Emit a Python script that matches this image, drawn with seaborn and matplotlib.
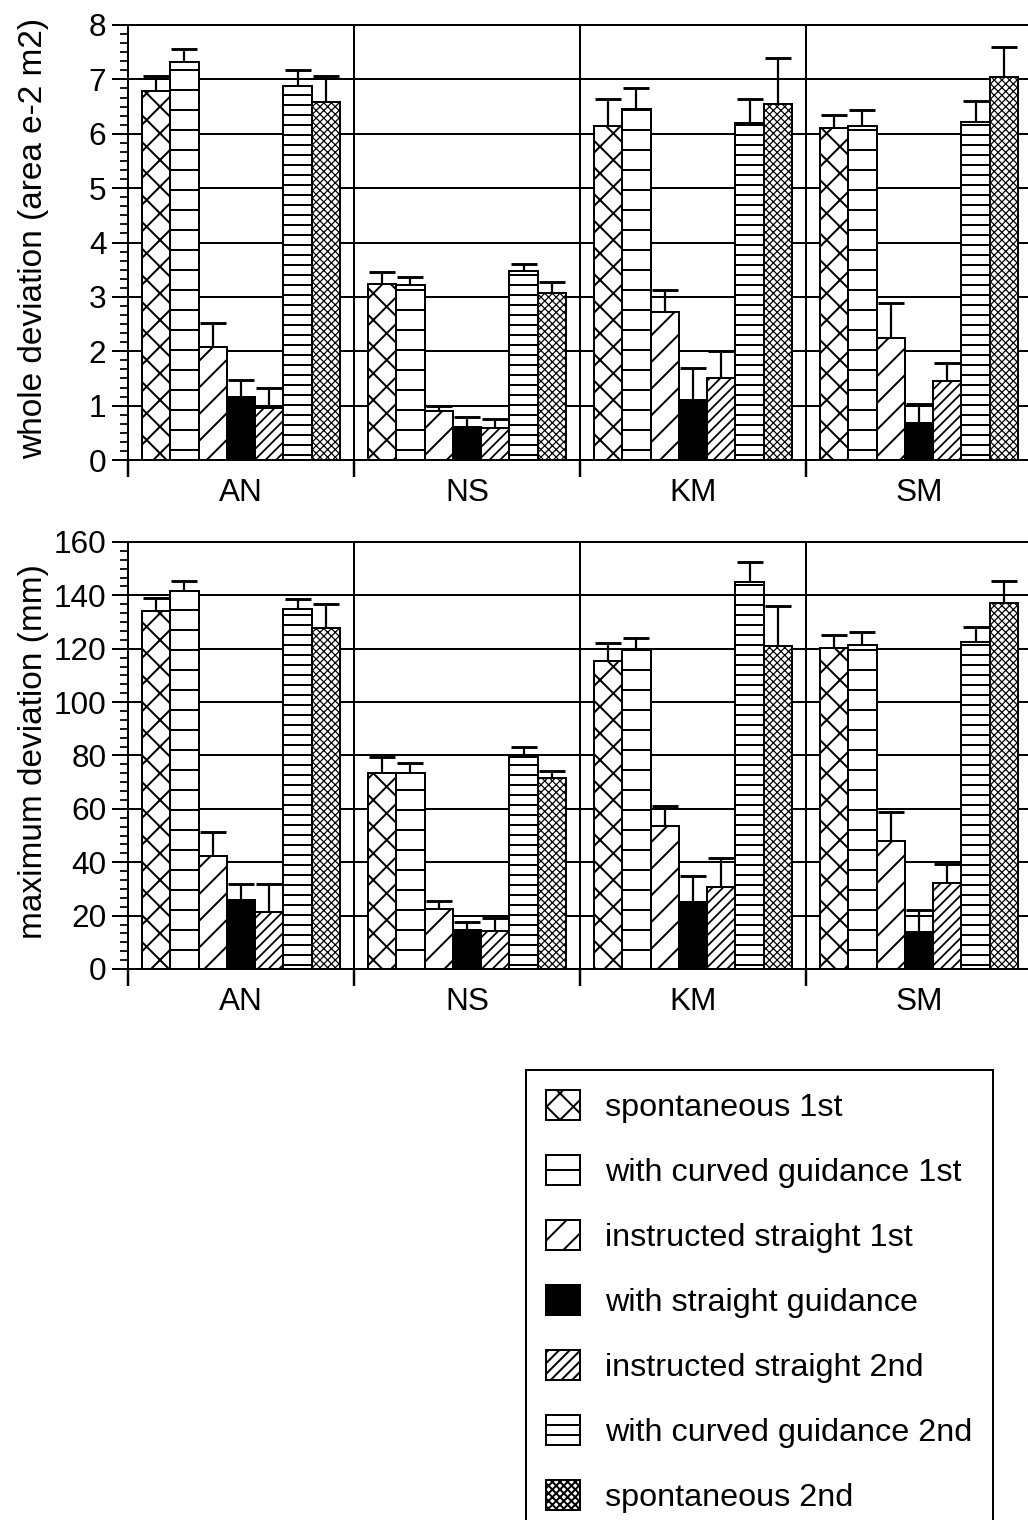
import numpy as np
import pandas as pd
import matplotlib
matplotlib.use("Agg")
import matplotlib.pyplot as plt
import matplotlib.hatch as mhatch
import seaborn as sns
from matplotlib.ticker import AutoMinorLocator
from matplotlib.container import BarContainer

# ---------------- data ----------------
groups = ["AN", "NS", "KM", "SM"]
conditions = ["spontaneous 1st", "with curved guidance 1st", "instructed straight 1st",
              "with straight guidance", "instructed straight 2nd",
              "with curved guidance 2nd", "spontaneous 2nd"]

# whole deviation (area e-2 m2)
whole_AN = [6.78, 7.32, 2.08, 1.15, 0.95, 6.87, 6.58]
whole_NS = [3.23, 3.22, 0.90, 0.60, 0.59, 3.48, 3.07]
whole_KM = [6.14, 6.45, 2.72, 1.10, 1.50, 6.20, 6.55]
whole_SM = [6.11, 6.15, 2.25, 0.68, 1.45, 6.22, 7.04]
whole_err_AN = [0.28, 0.23, 0.44, 0.33, 0.38, 0.30, 0.48]
whole_err_NS = [0.22, 0.14, 0.10, 0.20, 0.16, 0.13, 0.20]
whole_err_KM = [0.50, 0.40, 0.40, 0.60, 0.50, 0.44, 0.85]
whole_err_SM = [0.23, 0.28, 0.64, 0.35, 0.34, 0.38, 0.55]

# maximum deviation (mm)
max_AN = [134.0, 141.7, 42.5, 26.0, 21.5, 134.8, 127.7]
max_NS = [73.5, 73.5, 22.6, 14.8, 14.3, 79.5, 71.4]
max_KM = [115.3, 119.7, 53.7, 25.1, 30.7, 144.9, 120.9]
max_SM = [120.3, 121.3, 48.1, 13.9, 32.2, 122.4, 137.0]
max_err_AN = [5.0, 3.7, 8.7, 5.7, 10.3, 4.0, 9.0]
max_err_NS = [6.0, 3.7, 2.9, 2.8, 4.8, 3.7, 2.9]
max_err_KM = [6.8, 4.3, 7.5, 9.7, 11.0, 7.7, 15.3]
max_err_SM = [5.0, 5.0, 10.6, 8.1, 7.2, 5.6, 8.4]

whole_label = "whole deviation (area e-2 m2)"
max_label = "maximum deviation (mm)"

# ---------------- style ----------------
hatches = ["xx", "-", "//", "", "/////", "--", "xxxxxxx"]
hatch_lw = [0.9, 0.9, 0.9, 0.9, 0.8, 0.9, 0.55]
fills = ["white", "white", "white", "black", "white", "white", "white"]

# slightly denser horizontal hatch lines (closer to the original print)
_orig_hinit = mhatch.HorizontalHatch.__init__


def _hinit(self, hatch, density):
    _orig_hinit(self, hatch, density)
    self.num_lines = int((hatch.count('-') + hatch.count('+')) * density * 1.34)
    self.num_vertices = self.num_lines * 2


mhatch.HorizontalHatch.__init__ = _hinit

DPI = 160
W, H = 1028, 1520
sns.set_style("ticks")
plt.rcParams["font.family"] = ["Liberation Sans", "DejaVu Sans"]
plt.rcParams["hatch.linewidth"] = 0.9
plt.rcParams["hatch.color"] = "black"

FS = 14.2
LW = 0.9

fig = plt.figure(figsize=(W / DPI, H / DPI), dpi=DPI)


def px_axes(left, top, right, bottom):
    return fig.add_axes([left / W, 1 - bottom / H, (right - left) / W, (bottom - top) / H])


def build_df(vals, errs):
    rows = []
    for g, v, e in zip(groups, vals, errs):
        for c, vv, ee in zip(conditions, v, e):
            rows.append({"group": g, "condition": c, "value": vv, "err": ee})
    return pd.DataFrame(rows)


def style_patch(p, ci):
    p.set_hatch(hatches[ci])
    p.set_edgecolor("black")
    if hasattr(p, "set_hatch_linewidth"):
        p.set_hatch_linewidth(hatch_lw[ci])


def draw_panel(ax, df, ymax, step, ylabel):
    palette = dict(zip(conditions, fills))
    sns.barplot(data=df, x="group", y="value", hue="condition", order=groups,
                hue_order=conditions, palette=palette, saturation=1, width=0.876,
                edgecolor="black", linewidth=LW, errorbar=None, legend=False,
                ax=ax, zorder=3)
    bar_conts = [c for c in ax.containers if isinstance(c, BarContainer)]
    for ci, cont in enumerate(bar_conts):
        xs, ys, es = [], [], []
        sub = df[df["condition"] == conditions[ci]].set_index("group")
        for g, bar in zip(groups, cont.patches):
            style_patch(bar, ci)
            xs.append(bar.get_x() + bar.get_width() / 2)
            ys.append(bar.get_height())
            es.append(sub.loc[g, "err"])
        es = np.array(es)
        _, caps, _ = ax.errorbar(xs, ys, yerr=[np.zeros_like(es), es], fmt="none",
                                 ecolor="black", elinewidth=1.0, capsize=5.8,
                                 capthick=1.3, zorder=4)
        if len(caps) >= 2:
            caps[0].set_visible(False)

    ax.set_xlim(-0.5, 3.5)
    ax.set_ylim(0, ymax)
    ax.set_axisbelow(True)
    ax.set_yticks(np.arange(0, ymax + step / 2, step))
    ax.yaxis.set_minor_locator(AutoMinorLocator(6))
    ax.tick_params(axis="y", which="major", left=True, direction="out", length=7.2,
                   width=LW, labelsize=FS, pad=2.5, colors="black")
    ax.tick_params(axis="y", which="minor", left=True, direction="out", length=3.6,
                   width=0.8, colors="black")
    ax.set_xticks([-0.5, 0.5, 1.5, 2.5, 3.5], labels=[""] * 5)
    ax.set_xticks([0, 1, 2, 3], labels=groups, minor=True)
    ax.tick_params(axis="x", which="major", bottom=True, direction="out", length=7.6,
                   width=1.1, colors="black")
    ax.tick_params(axis="x", which="minor", bottom=True, length=0, labelsize=FS, pad=8,
                   colors="black")
    ax.grid(True, axis="both", which="major", color="black", linewidth=LW)
    for sp in ax.spines.values():
        sp.set_visible(True)
        sp.set_color("black")
        sp.set_linewidth(LW)
    ax.set_xlabel("")
    ax.set_ylabel(ylabel, fontsize=15, color="black")
    ax.yaxis.set_label_coords((49 - 128) / 904, 0.51)
    return bar_conts


ax1 = px_axes(128, 25, 1032, 460)
ax2 = px_axes(128, 542, 1032, 969)

df_whole = build_df([whole_AN, whole_NS, whole_KM, whole_SM],
                    [whole_err_AN, whole_err_NS, whole_err_KM, whole_err_SM])
df_max = build_df([max_AN, max_NS, max_KM, max_SM],
                  [max_err_AN, max_err_NS, max_err_KM, max_err_SM])

draw_panel(ax1, df_whole, 8, 1, whole_label)
handles = draw_panel(ax2, df_max, 160, 20, max_label)

leg = fig.legend(handles, conditions, loc="upper left",
                 bbox_to_anchor=(526 / W, 1 - 1070 / H), bbox_transform=fig.transFigure,
                 frameon=True, fancybox=False, framealpha=1, edgecolor="black",
                 fontsize=14.6, handlelength=1.05, handleheight=1.05,
                 labelspacing=0.98, handletextpad=0.78, borderpad=0.62,
                 borderaxespad=0)
leg.get_frame().set_linewidth(LW)
for t in leg.get_texts():
    t.set_color("black")

fig.savefig("out.png", dpi=DPI, facecolor="white")
